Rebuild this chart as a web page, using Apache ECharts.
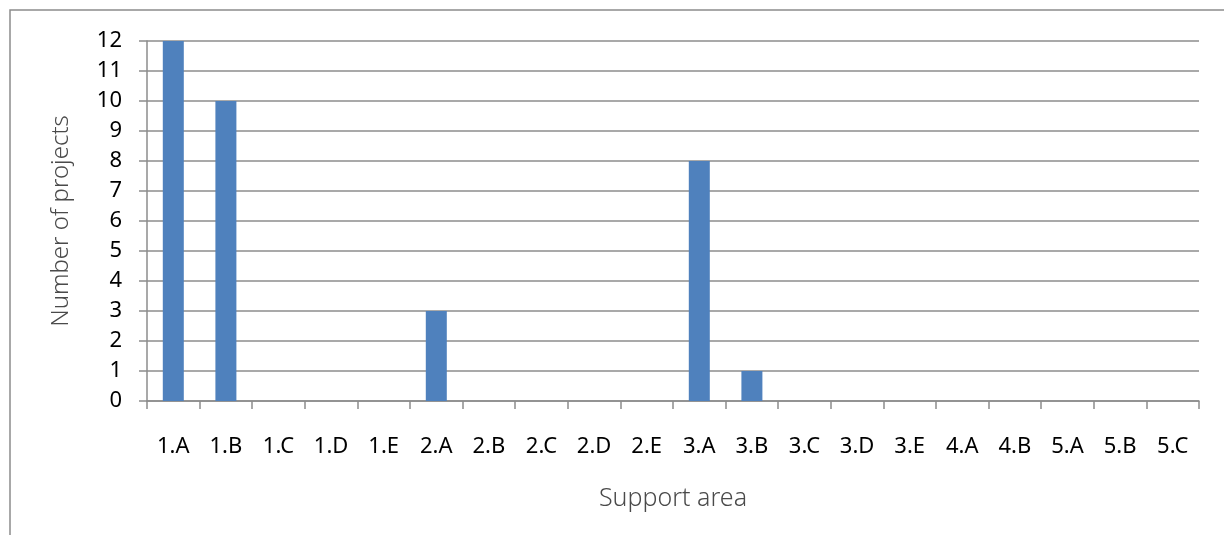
<!DOCTYPE html>
<html>
<head>
<meta charset="utf-8">
<script src="https://cdn.jsdelivr.net/npm/echarts@6/dist/echarts.min.js"></script>
<style>
  html, body { margin: 0; padding: 0; background: #ffffff; }
  #chart { width: 1224px; height: 535px; }
</style>
</head>
<body>
<div id="chart"></div>
<script>
// Support areas on the category axis
const categories = ['1.A', '1.B', '1.C', '1.D', '1.E', '2.A', '2.B', '2.C', '2.D', '2.E',
                    '3.A', '3.B', '3.C', '3.D', '3.E', '4.A', '4.B', '5.A', '5.B', '5.C'];
// Number of projects per support area
const projectCounts = [12, 10, 0, 0, 0, 3, 0, 0, 0, 0, 8, 1, 0, 0, 0, 0, 0, 0, 0, 0];
const yAxisTitle = 'Number of projects';
const xAxisTitle = 'Support area';

const gridColor = '#8c8c8c';
const textFont = '"Noto Sans", sans-serif';

const chart = echarts.init(document.getElementById('chart'), null, { renderer: 'canvas' });
chart.setOption({
  animation: false,
  backgroundColor: '#ffffff',
  graphic: [{
    type: 'rect',
    shape: { x: 10, y: 10, width: 1400, height: 700 },
    style: { fill: 'none', stroke: gridColor, lineWidth: 1.5 },
    silent: true
  }],
  grid: { left: 147, right: 25, top: 41, bottom: 134, containLabel: false },
  xAxis: {
    type: 'category',
    data: categories,
    boundaryGap: true,
    name: xAxisTitle,
    nameLocation: 'middle',
    nameGap: 85,
    nameTextStyle: { fontFamily: textFont, fontSize: 25, color: '#4a4a4a', fontWeight: 300 },
    axisLine: { show: true, lineStyle: { color: gridColor, width: 1.5 } },
    axisTick: { show: true, alignWithLabel: false, length: 8, lineStyle: { color: gridColor, width: 1.5 } },
    axisLabel: { interval: 0, margin: 35, fontFamily: textFont, fontSize: 22, color: '#000000' },
    splitLine: { show: false }
  },
  yAxis: {
    type: 'value',
    min: 0,
    max: 12,
    interval: 1,
    name: yAxisTitle,
    nameLocation: 'middle',
    nameGap: 74,
    nameRotate: 90,
    nameTextStyle: { fontFamily: textFont, fontSize: 24, color: '#4a4a4a', fontWeight: 300 },
    axisLine: { show: true, lineStyle: { color: gridColor, width: 1.5 } },
    axisTick: { show: true, length: 8, lineStyle: { color: gridColor, width: 1.5 } },
    axisLabel: { margin: 25, fontFamily: textFont, fontSize: 22, color: '#000000' },
    splitLine: { show: true, lineStyle: { color: gridColor, width: 1.5 } }
  },
  series: [{
    type: 'bar',
    data: projectCounts,
    barWidth: 21,
    itemStyle: { color: '#4f81bd' }
  }]
});
</script>
</body>
</html>
